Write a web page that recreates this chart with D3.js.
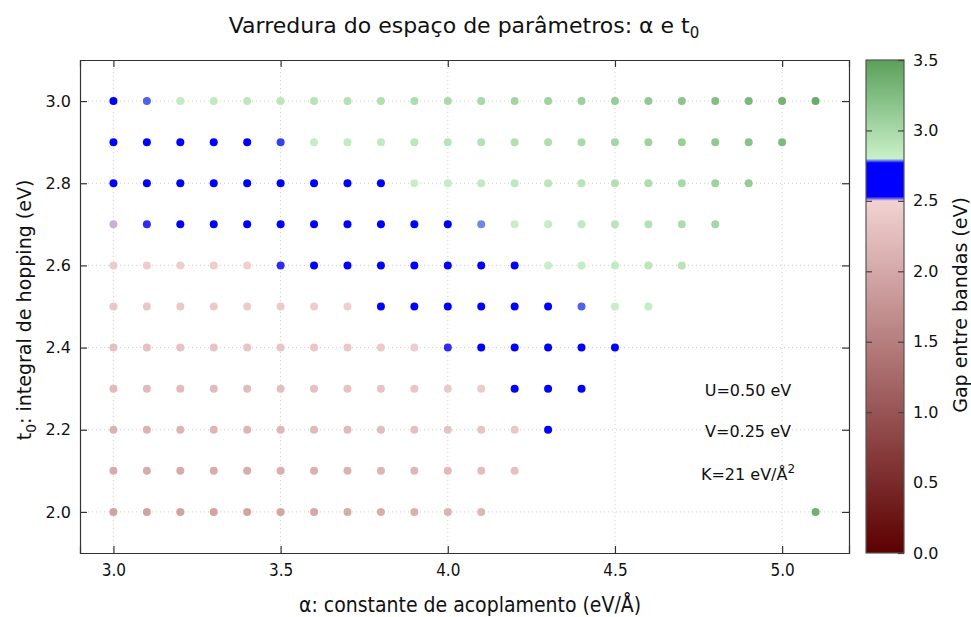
<!DOCTYPE html>
<html>
<head>
<meta charset="utf-8">
<script src="https://cdn.jsdelivr.net/npm/d3@7"></script>
<style>
  body { margin: 0; background: #fff; }
  svg { display: block; }
  text { font-family: "DejaVu Sans", sans-serif; fill: #111; }
  .cond { font-stretch: condensed; font-family: "DejaVu Sans Condensed", "DejaVu Sans", sans-serif; }
</style>
</head>
<body>
<svg id="chart" width="971" height="617"></svg>
<script>
// ---- data ----
const alphaValues = [3.0, 3.1, 3.2, 3.3, 3.4, 3.5, 3.6, 3.7, 3.8, 3.9, 4.0, 4.1, 4.2, 4.3, 4.4, 4.5, 4.6, 4.7, 4.8, 4.9, 5.0, 5.1];
const t0Values = [3.0, 2.9, 2.8, 2.7, 2.6, 2.5, 2.4, 2.3, 2.2, 2.1, 2.0];

const gap_t300 = [2.68, 2.782, 2.84, 2.85, 2.87, 2.89, 2.91, 2.93, 2.95, 2.97, 2.99, 3.01, 3.03, 3.05, 3.08, 3.11, 3.14, 3.18, 3.24, 3.29, 3.33, 3.4];
const gap_t290 = [2.66, 2.67, 2.68, 2.69, 2.71, 2.778, 2.82, 2.84, 2.86, 2.88, 2.9, 2.92, 2.94, 2.96, 2.99, 3.02, 3.06, 3.1, 3.15, 3.2, 3.27];
const gap_t280 = [2.62, 2.63, 2.64, 2.65, 2.66, 2.67, 2.69, 2.71, 2.74, 2.81, 2.83, 2.85, 2.87, 2.89, 2.91, 2.94, 2.97, 3.01, 3.06, 3.12];
const gap_t270 = [2.505, 2.524, 2.56, 2.58, 2.6, 2.62, 2.64, 2.66, 2.68, 2.7, 2.73, 2.787, 2.81, 2.83, 2.86, 2.89, 2.93, 2.97, 3.02];
const gap_t260 = [2.42, 2.43, 2.44, 2.45, 2.46, 2.524, 2.56, 2.59, 2.62, 2.65, 2.68, 2.71, 2.75, 2.81, 2.83, 2.85, 2.88, 2.91];
const gap_t250 = [2.36, 2.37, 2.38, 2.39, 2.4, 2.41, 2.43, 2.45, 2.54, 2.58, 2.62, 2.66, 2.7, 2.74, 2.782, 2.81, 2.83];
const gap_t240 = [2.29, 2.3, 2.31, 2.32, 2.33, 2.35, 2.37, 2.39, 2.41, 2.44, 2.524, 2.56, 2.6, 2.64, 2.68, 2.72];
const gap_t230 = [2.21, 2.22, 2.23, 2.24, 2.25, 2.27, 2.29, 2.31, 2.33, 2.36, 2.39, 2.42, 2.56, 2.6, 2.65];
const gap_t220 = [2.12, 2.13, 2.14, 2.15, 2.16, 2.18, 2.2, 2.22, 2.25, 2.28, 2.31, 2.34, 2.38, 2.58];
const gap_t210 = [2.03, 2.03, 2.04, 2.05, 2.06, 2.08, 2.1, 2.12, 2.15, 2.18, 2.21, 2.25, 2.29];
const gap_t200 = [1.95, 1.94, 1.95, 1.96, 1.97, 1.99, 2.01, 2.03, 2.06, 2.09, 2.13, 2.17, null, null, null, null, null, null, null, null, null, 3.36];
const gapRows = [gap_t300, gap_t290, gap_t280, gap_t270, gap_t260, gap_t250, gap_t240, gap_t230, gap_t220, gap_t210, gap_t200];

const xTicks = [3.0, 3.5, 4.0, 4.5, 5.0];
const yTicks = [2.0, 2.2, 2.4, 2.6, 2.8, 3.0];
const cbTicks = [0.0, 0.5, 1.0, 1.5, 2.0, 2.5, 3.0, 3.5];
const cmapStops = [0, 2.5, 2.53, 2.77, 2.8, 3.5];
const cmapColors = ["#5c0000", "#f2d2d2", "#0000ff", "#0000ff", "#c8f0c8", "#5aa05a"];
const annotations = ["U=0.50 eV", "V=0.25 eV", "K=21 eV/Å"];

// ---- build points ----
const points = [];
gapRows.forEach((row, i) => {
  row.forEach((g, j) => {
    if (g !== null && g !== undefined) points.push({a: alphaValues[j], t: t0Values[i], g});
  });
});

// ---- layout ----
const svg = d3.select("#chart");
const L = 80, R = 849, T = 60, B = 553;
const x = d3.scaleLinear().domain([2.9, 5.2]).range([L, R]);
const y = d3.scaleLinear().domain([1.9, 3.1]).range([B, T]);
const color = d3.scaleLinear().domain(cmapStops).range(cmapColors).clamp(true);

// grid
const grid = svg.append("g");
grid.selectAll(".gx").data(xTicks).join("line")
  .attr("x1", d => x(d)).attr("x2", d => x(d)).attr("y1", T).attr("y2", B)
  .attr("stroke", "#cfcfcf").attr("stroke-width", 1).attr("stroke-dasharray", "1,3");
grid.selectAll(".gy").data(yTicks).join("line")
  .attr("y1", d => y(d)).attr("y2", d => y(d)).attr("x1", L).attr("x2", R)
  .attr("stroke", "#cfcfcf").attr("stroke-width", 1).attr("stroke-dasharray", "1,3");

// points
svg.append("g").selectAll("circle").data(points).join("circle")
  .attr("cx", d => x(d.a)).attr("cy", d => y(d.t)).attr("r", 4)
  .attr("fill", d => color(d.g));

// axes (ticks inside)
const axB = svg.append("g").attr("transform", `translate(0,${B})`)
  .call(d3.axisBottom(x).tickValues(xTicks).tickFormat(d3.format(".1f")).tickSize(-7).tickPadding(11));
const axT = svg.append("g").attr("transform", `translate(0,${T})`)
  .call(d3.axisTop(x).tickValues(xTicks).tickFormat("").tickSize(-7));
const axL = svg.append("g").attr("transform", `translate(${L},0)`)
  .call(d3.axisLeft(y).tickValues(yTicks).tickFormat(d3.format(".1f")).tickSize(-7).tickPadding(9));
const axR = svg.append("g").attr("transform", `translate(${R},0)`)
  .call(d3.axisRight(y).tickValues(yTicks).tickFormat("").tickSize(-7));
[axB, axT, axL, axR].forEach(a => {
  a.select(".domain").attr("stroke", "#333").attr("stroke-width", 1.2);
  a.selectAll(".tick line").attr("stroke", "#333").attr("stroke-width", 1.2);
  a.selectAll("text").attr("font-size", 16).attr("fill", "#111");
});
axB.selectAll("text").attr("class", "cond").attr("font-size", 17);

// colorbar
const cbL = 866, cbR = 904;
const cy = d3.scaleLinear().domain([0, 3.5]).range([B, T]);
const defs = svg.append("defs");
const grad = defs.append("linearGradient").attr("id", "cbgrad")
  .attr("x1", 0).attr("y1", 1).attr("x2", 0).attr("y2", 0);
cmapStops.forEach((s, i) => {
  grad.append("stop").attr("offset", s / 3.5).attr("stop-color", cmapColors[i]);
});
svg.append("rect").attr("x", cbL).attr("y", T).attr("width", cbR - cbL).attr("height", B - T)
  .attr("fill", "url(#cbgrad)").attr("stroke", "#555").attr("stroke-width", 1.2);
const cbAx = svg.append("g").attr("transform", `translate(${cbR},0)`)
  .call(d3.axisRight(cy).tickValues(cbTicks).tickFormat(d3.format(".1f")).tickSize(-6).tickPadding(9));
cbAx.select(".domain").remove();
cbAx.selectAll(".tick line").attr("stroke", "#444").attr("stroke-width", 1.2);
cbAx.selectAll("text").attr("font-size", 16).attr("fill", "#111");
const cbAxL = svg.append("g").attr("transform", `translate(${cbL},0)`)
  .call(d3.axisLeft(cy).tickValues(cbTicks.slice(1, -1)).tickFormat("").tickSize(-6));
cbAxL.select(".domain").remove();
cbAxL.selectAll(".tick line").attr("stroke", "#444").attr("stroke-width", 1.2);

// title
const title = svg.append("text").attr("x", 464).attr("y", 33).attr("text-anchor", "middle").attr("font-size", 22);
title.append("tspan").text("Varredura do espaço de parâmetros: α e t");
title.append("tspan").attr("font-size", 15).attr("dy", 5).text("0");

// x label
svg.append("text").attr("class", "cond").attr("x", 470).attr("y", 612).attr("text-anchor", "middle")
  .attr("font-size", 21).text("α: constante de acoplamento (eV/Å)");

// y label
const yl = svg.append("text").attr("transform", "translate(31,310) rotate(-90)").attr("text-anchor", "middle").attr("font-size", 19);
yl.append("tspan").text("t");
yl.append("tspan").attr("font-size", 14).attr("dy", 5).text("0");
yl.append("tspan").attr("dy", -5).text(": integral de hopping (eV)");

// colorbar label
svg.append("text").attr("transform", "translate(967,305) rotate(-90)").attr("text-anchor", "middle")
  .attr("font-size", 19).text("Gap entre bandas (eV)");

// annotations
const annY = [396, 437, 480];
annotations.forEach((s, i) => {
  const t = svg.append("text").attr("x", 748).attr("y", annY[i]).attr("text-anchor", "middle").attr("font-size", 16);
  t.append("tspan").text(s);
  if (i === 2) t.append("tspan").attr("font-size", 12).attr("dy", -7).text("2");
});
</script>
</body>
</html>
